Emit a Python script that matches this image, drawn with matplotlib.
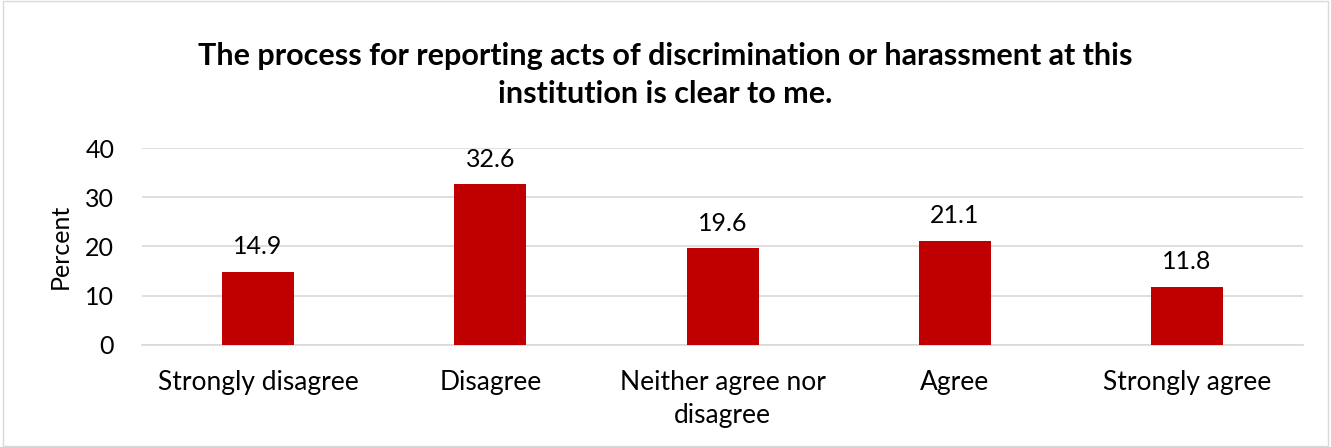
import matplotlib.pyplot as plt
import numpy as np

CATEGORIES = ['Strongly disagree', 'Disagree', 'Neither agree nor\ndisagree', 'Agree', 'Strongly agree']
PERCENTS = [14.9, 32.6, 19.6, 21.1, 11.8]
Y_TICKS = [0, 10, 20, 30, 40]

plt.rcParams['font.family'] = ['Lato', 'DejaVu Sans']

fig = plt.figure(figsize=(13.31, 4.47), dpi=100)
ax = fig.add_axes([0.1067, 0.2282, 0.8723, 0.4407])

# light border round the whole chart
fig.patches.append(plt.Rectangle((0.002, 0.003), 0.996, 0.994, transform=fig.transFigure,
                                 fill=False, edgecolor='#d9d9d9', linewidth=1))

x = np.arange(len(CATEGORIES))
bars = ax.bar(x, PERCENTS, width=0.31, color='#C00000', zorder=3)
ax.bar_label(bars, labels=[f'{v:.1f}' for v in PERCENTS], padding=10, fontsize=18)

ax.set_xlim(-0.5, len(CATEGORIES) - 0.5)
ax.set_ylim(0, 40)
ax.set_yticks(Y_TICKS)
ax.set_xticks(x, CATEGORIES)
ax.tick_params(axis='x', length=0, labelsize=19, pad=18)
ax.tick_params(axis='y', length=0, labelsize=18, pad=20)
for lbl in ax.get_xticklabels():
    lbl.set_linespacing(1.4)
ax.grid(axis='y', color='#d9d9d9', linewidth=1.2, zorder=0)
for side in ['top', 'right', 'left']:
    ax.spines[side].set_visible(False)
ax.spines['bottom'].set_color('#d9d9d9')
ax.spines['bottom'].set_linewidth(1.2)

ax.set_ylabel('Percent', fontsize=18, labelpad=10)
fig.suptitle('The process for reporting acts of discrimination or harassment at this\ninstitution is clear to me.',
             x=0.5, y=0.905, fontsize=22, fontweight='bold', linespacing=1.4)

fig.savefig('out.png', dpi=100)
